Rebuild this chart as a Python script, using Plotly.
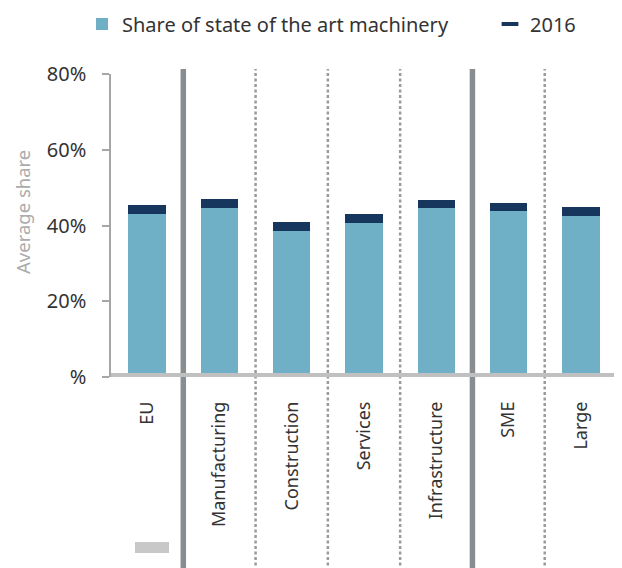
import plotly.graph_objects as go

categories = ["EU", "Manufacturing", "Construction", "Services", "Infrastructure", "SME", "Large"]
share_values = [43.1, 44.7, 38.6, 40.7, 44.5, 43.7, 42.6]
values_2016 = [45.4, 47.0, 40.9, 43.0, 46.8, 46.0, 44.9]
y_tickvals = [0, 20, 40, 60, 80]
y_ticktext = ["%", "20%", "40%", "60%", "80%"]
thick_separators = [0.5, 4.5]
dotted_separators = [1.5, 2.5, 3.5, 5.5]

LIGHT = "#6fb0c7"
NAVY = "#17365d"
FONT = "Noto Sans"

fig = go.Figure()
fig.add_trace(go.Bar(
    x=list(range(len(categories))), y=share_values, name="Share of state of the art machinery",
    marker=dict(color=LIGHT, line=dict(width=0)), width=0.516, legend="legend",
))
fig.add_trace(go.Bar(
    x=list(range(len(categories))), y=[b - a for a, b in zip(share_values, values_2016)],
    base=share_values, name="2016", showlegend=False,
    marker=dict(color=NAVY, line=dict(width=0)), width=0.516,
))
fig.add_trace(go.Scatter(
    x=[None], y=[None], mode="markers", name="2016", legend="legend2",
    marker=dict(symbol="line-ew-open", size=12, color=NAVY, line=dict(color=NAVY, width=4)),
))

shapes = []
for xs in thick_separators:
    shapes.append(dict(type="line", xref="x", yref="paper", x0=xs, x1=xs, y0=-0.64, y1=1.0165,
                       line=dict(color="#8a8d90", width=5.5), layer="above"))
for xs in dotted_separators:
    shapes.append(dict(type="line", xref="x", yref="paper", x0=xs, x1=xs, y0=-0.64, y1=1.0165,
                       line=dict(color="#9a9a9a", width=2.5, dash="3px,2.5px"), layer="above"))
shapes.append(dict(type="line", xref="paper", yref="y", x0=0, x1=1, y0=0, y1=0,
                   line=dict(color="#c0c0c0", width=8), layer="above"))
shapes.append(dict(type="rect", xref="paper", yref="paper",
                   x0=(135 - 111) / 506, x1=(169 - 111) / 506,
                   y0=-(553 - 377) / 303, y1=-(542 - 377) / 303,
                   fillcolor="#c8c8c8", line=dict(width=0)))

legend_common = dict(orientation="h", yanchor="middle", y=1 + (74 - 24) / 303, xanchor="left",
                     font=dict(size=20, color="#333333", family=FONT), itemwidth=30,
                     bgcolor="rgba(0,0,0,0)")

fig.update_layout(
    width=622, height=568,
    margin=dict(l=103, r=13, t=66, b=199, autoexpand=False),
    paper_bgcolor="white", plot_bgcolor="white",
    barmode="overlay", bargap=0,
    font=dict(family=FONT, color="#333333", size=18),
    showlegend=True,
    legend=dict(x=(82 - 111) / 506, **legend_common),
    legend2=dict(x=(490 - 111) / 506, **legend_common),
    xaxis=dict(
        range=[-0.5, 6.5], tickvals=list(range(len(categories))), ticktext=categories,
        tickangle=-90, showgrid=False, zeroline=False, showline=False, ticks="",
        tickfont=dict(size=18, color="#333333"), ticklabelstandoff=20,
    ),
    yaxis=dict(
        range=[0, 80], tickvals=y_tickvals, ticktext=y_ticktext,
        showgrid=False, zeroline=False, showline=True, linecolor="#a6a6a6", linewidth=1.5,
        ticks="outside", ticklen=7, tickcolor="#a6a6a6", tickwidth=1.5,
        tickfont=dict(size=20, color="#333333"), ticklabelstandoff=12,
    ),
    shapes=shapes,
    annotations=[dict(text="Average share", xref="paper", yref="paper",
                      x=(22 - 111) / 506, y=(377 - 212) / 303, xanchor="center", yanchor="middle",
                      textangle=-90, showarrow=False, font=dict(size=18.5, color="#ababab", family=FONT))],
)

fig.write_html("out.html")
